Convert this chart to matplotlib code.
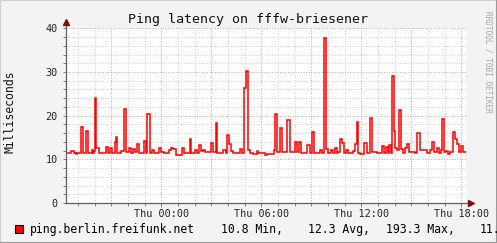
import matplotlib
matplotlib.use("Agg")
import matplotlib.pyplot as plt
from matplotlib.lines import Line2D
from matplotlib.patches import Rectangle

# step start times (hours relative to Thu 00:00) and ping values (ms)
seg_start = [-5.72, -5.40, -5.24, -5.14, -5.04, -4.84, -4.72, -4.52, -4.42, -4.14,
             -4.08, -4.04, -3.98, -3.90, -3.74, -3.34, -3.22, -3.10, -2.98, -2.78,
             -2.72, -2.64, -2.40, -2.24, -2.12, -1.94, -1.84, -1.68, -1.56, -1.48,
             -1.32, -1.04, -0.92, -0.88, -0.68, -0.54, -0.44, -0.14, -0.04, 0.16,
             0.46, 0.56, 0.70, 0.86, 1.26, 1.36, 1.72, 1.80, 2.00, 2.14,
             2.26, 2.36, 2.52, 2.62, 2.98, 3.08, 3.28, 3.36, 3.72, 3.86,
             3.96, 4.08, 4.16, 4.32, 4.72, 4.82, 4.98, 5.08, 5.18, 5.32,
             5.52, 5.72, 5.82, 5.92, 6.04, 6.22, 6.32, 6.76, 6.84, 6.96,
             7.12, 7.22, 7.56, 7.72, 8.02, 8.16, 8.26, 8.36, 8.72, 8.92,
             9.02, 9.16, 9.52, 9.62, 9.76, 9.88, 10.02, 10.18, 10.28, 10.42,
             10.52, 10.62, 10.72, 10.82, 10.98, 11.08, 11.18, 11.52, 11.62, 11.72,
             11.82, 11.92, 12.18, 12.32, 12.52, 12.62, 12.92, 13.22, 13.36, 13.46,
             13.58, 13.66, 13.78, 13.82, 13.94, 14.02, 14.12, 14.26, 14.38, 14.52,
             14.62, 14.72, 14.86, 15.22, 15.36, 15.52, 15.92, 16.12, 16.22, 16.36,
             16.52, 16.66, 16.78, 16.82, 16.94, 17.06, 17.22, 17.32, 17.52, 17.62,
             17.74, 17.86, 17.98, 18.08]
ping_ms = [11.5, 11.8, 11.5, 11.2, 11.5, 17.5, 11.5, 16.5, 11.5, 12.1,
           11.5, 11.9, 24.0, 12.6, 11.5, 12.8, 11.5, 12.5, 11.5, 13.9,
           15.1, 11.5, 11.9, 21.5, 11.7, 12.6, 11.5, 12.3, 11.7, 13.5,
           11.5, 14.2, 11.5, 20.3, 11.5, 12.1, 11.5, 12.5, 11.7, 11.5,
           12.1, 12.7, 12.3, 11.1, 12.6, 11.5, 14.6, 11.5, 12.1, 11.5,
           13.2, 11.8, 12.1, 11.7, 13.8, 11.7, 18.3, 11.5, 12.2, 11.5,
           15.6, 13.6, 11.9, 11.4, 12.4, 11.5, 26.3, 30.2, 12.2, 11.5,
           11.2, 11.9, 11.5, 11.4, 11.5, 11.0, 11.2, 12.2, 20.4, 11.7,
           17.2, 11.7, 19.1, 11.7, 13.9, 11.7, 13.9, 11.5, 13.3, 11.5,
           16.3, 11.4, 12.1, 11.5, 37.8, 12.3, 11.5, 12.2, 11.5, 12.5,
           11.5, 11.7, 14.6, 13.8, 11.5, 12.2, 11.5, 11.9, 13.6, 18.5,
           11.5, 11.2, 13.8, 11.5, 19.4, 11.7, 11.5, 13.0, 11.5, 12.9,
           11.5, 13.3, 11.5, 29.1, 16.4, 12.6, 12.1, 21.3, 12.3, 11.5,
           12.6, 13.5, 11.7, 11.5, 16.1, 12.1, 11.5, 12.2, 13.9, 11.7,
           12.6, 11.5, 12.1, 19.2, 11.7, 11.9, 11.2, 11.7, 16.3, 14.6,
           13.4, 11.7, 13.0, 11.7]
last_time = 18.26

x_start, x_end = -5.72, 18.28
tick_hours = [0, 6, 12, 18]
tick_labels = ["Thu 00:00", "Thu 06:00", "Thu 12:00", "Thu 18:00"]
y_ticks = [0, 10, 20, 30, 40]

series_name = "ping.berlin.freifunk.net"
stat_min, stat_avg, stat_max, stat_last = "10.8", "12.3", "193.3", "11."

mono = "DejaVu Sans Mono"
W, H = 497, 243

fig = plt.figure(figsize=(W / 100, H / 100), dpi=100, facecolor="#f3f3f3")
ax = fig.add_axes([66 / W, 40 / H, 400 / W, 174.7 / H])
ax.set_facecolor("white")

# grid like rrdtool: grey minor, pink major, dotted
for h in range(-5, 19):
    col = "#e3a6a6" if h % 3 == 0 else "#d2d2d2"
    ax.axvline(h, color=col, lw=0.75, ls=(0, (1, 1.5)), zorder=1)
for v in range(2, 41, 2):
    col = "#e3a6a6" if v % 10 == 0 else "#d2d2d2"
    ax.axhline(v, color=col, lw=0.75, ls=(0, (1, 1.5)), zorder=1)

ax.step(seg_start + [last_time], ping_ms + [ping_ms[-1]], where="post",
        color="#ff0000", lw=1.1, zorder=3, solid_joinstyle="miter")

ax.set_xlim(x_start, x_end)
ax.set_ylim(0, 40)
ax.set_xticks(tick_hours)
ax.set_xticklabels(tick_labels)
ax.set_yticks(y_ticks)
ax.set_yticks(range(0, 41, 2), minor=True)
ax.set_xticks(range(-5, 19), minor=True)
ax.tick_params(axis="both", which="both", direction="out", length=2,
               width=0.7, color="#808080", labelsize=7.3, pad=4)
ax.tick_params(axis="x", which="major", color="#c06060", length=3, pad=1.5)
for lab in ax.get_xticklabels() + ax.get_yticklabels():
    lab.set_fontfamily(mono)
    lab.set_color("#222222")
for s in ax.spines.values():
    s.set_visible(False)

# axes with arrow heads
ax.plot([0, 0], [0, 1.03], transform=ax.transAxes, color="#606060", lw=0.9,
        clip_on=False, zorder=4)
ax.plot([0, 1.0125], [0, 0], transform=ax.transAxes, color="#606060", lw=0.9,
        clip_on=False, zorder=4)
ax.plot([0], [1.035], transform=ax.transAxes, marker="^", ms=4, color="#7a1010",
        clip_on=False, zorder=5)
ax.plot([1.0135], [0], transform=ax.transAxes, marker=">", ms=4, color="#7a1010",
        clip_on=False, zorder=5)

fig.text(247.5 / W, 1 - 19 / H, "Ping latency on fffw-briesener", family=mono,
         fontsize=9.6, ha="center", va="center", color="#111111")
fig.text(10 / W, 1 - 112 / H, "Milliseconds", family=mono, fontsize=8.3,
         rotation=90, ha="center", va="center", color="#111111")
fig.text(488 / W, 1 - 62 / H, "RRDTOOL / TOBI OETIKER", family=mono, fontsize=5.6,
         rotation=-90, ha="center", va="center", color="#a8a8a8")

# legend line (the last value is cut at the right edge, as in rrdtool's output)
fig.add_artist(Rectangle((15 / W, 1 - 233 / H), 8 / W, 8 / H, facecolor="#ff0000",
                         edgecolor="black", lw=0.8, transform=fig.transFigure))
leg_y = 1 - 229 / H
fig.text(30 / W, leg_y, series_name, family=mono, fontsize=8.3, va="center")
fig.text(221 / W, leg_y, stat_min + " Min,", family=mono, fontsize=8.3, va="center")
fig.text(308 / W, leg_y, stat_avg + " Avg,", family=mono, fontsize=8.3, va="center")
fig.text(386 / W, leg_y, stat_max + " Max,", family=mono, fontsize=8.3, va="center")
fig.text(480 / W, leg_y, stat_last, family=mono, fontsize=8.3, va="center")

# shaded frame
fig.add_artist(Line2D([0, 0], [0, 1], transform=fig.transFigure, color="#d0d0d0", lw=1.5))
fig.add_artist(Line2D([0, 1], [1, 1], transform=fig.transFigure, color="#d0d0d0", lw=1.5))
fig.add_artist(Line2D([1, 1], [0, 1], transform=fig.transFigure, color="#9a9a9a", lw=1.5))
fig.add_artist(Line2D([0, 1], [0, 0], transform=fig.transFigure, color="#9a9a9a", lw=1.5))

fig.savefig("out.png", dpi=100, facecolor=fig.get_facecolor())
